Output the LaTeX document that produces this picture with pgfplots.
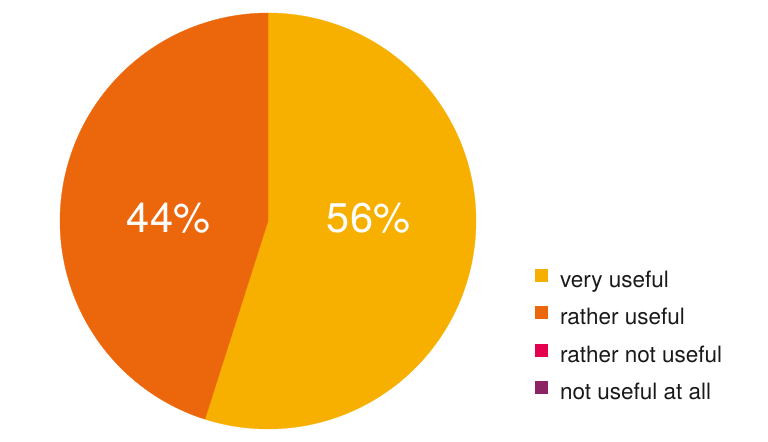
\documentclass[border=0pt]{standalone}
\usepackage{pgfplots}
\pgfplotsset{compat=1.18}
\usepackage{fontspec}
\setmainfont{TeX Gyre Heros}
\definecolor{cA}{HTML}{F8B000}
\definecolor{cB}{HTML}{EC670B}
\definecolor{cC}{HTML}{E5004F}
\definecolor{cD}{HTML}{8C2463}
% slice values (share of the pie)
\def\valA{54.9}
\def\valB{45.1}
\def\cx{268}
\def\cy{221}
\def\rr{208}
\begin{document}
\begin{tikzpicture}
\pgfmathsetmacro{\aEnd}{90-\valA*3.6}
\pgfmathsetmacro{\bEnd}{\aEnd-\valB*3.6}
\begin{axis}[
  scale only axis, width=768bp, height=442bp,
  xmin=0, xmax=768, ymin=0, ymax=442,
  hide axis, clip=false,
  legend image code/.code={\fill[#1, draw=none] (0bp,0bp) rectangle (13bp,13bp);},
  legend style={draw=none, fill=none, inner sep=0pt, outer sep=0pt,
    at={(axis cs:535,173)}, anchor=north west,
    font=\fontsize{22.5bp}{27bp}\selectfont,
    row sep=14bp, column sep=12bp,
    nodes={inner sep=0pt, text height=16bp, text depth=5bp, text=black!90}},
  legend cell align=left,
]
\path (axis cs:0,0) rectangle (axis cs:768,442);
\addplot[forget plot, fill=cA, draw=cA, line width=0.3pt, domain=90:\aEnd, samples=200]
  ({\cx+\rr*cos(x)},{\cy+\rr*sin(x)}) -- (axis cs:\cx,\cy) -- cycle;
\addplot[forget plot, fill=cB, draw=cB, line width=0.3pt, domain=\aEnd:\bEnd, samples=200]
  ({\cx+\rr*cos(x)},{\cy+\rr*sin(x)}) -- (axis cs:\cx,\cy) -- cycle;
\addlegendimage{fill=cA}
\addlegendimage{fill=cB}
\addlegendimage{fill=cC}
\addlegendimage{fill=cD}
\legend{very useful, rather useful, rather not useful, not useful at all}
\node[anchor=base, text=white, font=\fontsize{41.5bp}{50bp}\selectfont] at (axis cs:168.5,209) {44\%};
\node[anchor=base, text=white, font=\fontsize{41.5bp}{50bp}\selectfont] at (axis cs:368.5,209) {56\%};
\end{axis}
\end{tikzpicture}
\end{document}
